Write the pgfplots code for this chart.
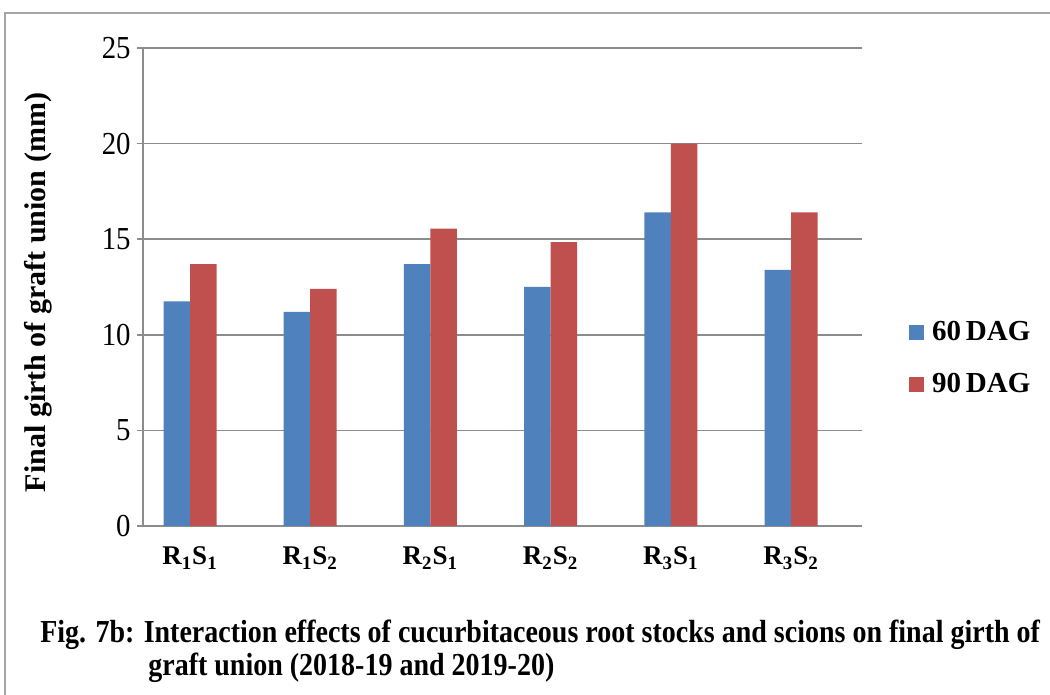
\documentclass[border=0pt]{standalone}
\usepackage{fontspec}
\setmainfont{Liberation Serif}
\usepackage{pgfplots}
\pgfplotsset{compat=1.18}
\definecolor{bblue}{HTML}{4F81BD}
\definecolor{bred}{HTML}{C0504D}
\definecolor{gridg}{HTML}{8C8C8C}
\begin{document}
\begin{tikzpicture}
\path[use as bounding box] (0,0) rectangle (525pt,347.5pt);
\draw[gray!70, line width=1pt] (2.5pt,0) -- (2.5pt,341pt) -- (525pt,341pt);
\begin{axis}[
  at={(71.5pt,84.5pt)}, anchor=south west,
  width=359.5pt, height=239pt, scale only axis,
  ybar=0pt, bar width=13.25pt,
  xmin=-0.391, xmax=5.59,
  ymin=0, ymax=25, ytick={0,5,...,25},
  xtick={0,...,5},
  xticklabels={R\textsubscript{1}S\textsubscript{1}, R\textsubscript{1}S\textsubscript{2}, R\textsubscript{2}S\textsubscript{1}, \raisebox{-2.5pt}{R\textsubscript{2}S\textsubscript{2}}, R\textsubscript{3}S\textsubscript{1}, R\textsubscript{3}S\textsubscript{2}},
  axis x line=bottom, axis y line=left,
  axis line style={-, draw=gridg, line width=0.75pt},
  ymajorgrids, grid style={gridg, line width=0.75pt},
  ytick style={gridg, line width=0.75pt}, tick align=outside, major tick length=3pt,
  xtick style={draw=none},
  /pgf/number format/assume math mode=true,
  yticklabel style={font=\fontsize{16}{16}\selectfont, xscale=0.9},
  xticklabel style={font=\bfseries\fontsize{13.5}{14}\selectfont, yshift=-4pt},
  legend style={at={(1.065,0.351)}, anchor=west, draw=none, fill=none,
    font=\bfseries\fontsize{14.5}{15}\selectfont, row sep=11pt, inner sep=0pt,
    nodes={inner xsep=4pt}},
  legend image code/.code={\fill[#1, draw=none] (0pt,-3.75pt) rectangle (7.5pt,3.75pt);},
]
\addplot[fill=bblue, draw=none] coordinates {(0,11.75) (1,11.2) (2,13.7) (3,12.5) (4,16.4) (5,13.4)};
\addplot[fill=bred, draw=none] coordinates {(0,13.7) (1,12.4) (2,15.55) (3,14.85) (4,20.0) (5,16.4)};
\legend{60\,DAG, 90\,DAG}
\end{axis}
\node[rotate=90, font=\bfseries\fontsize{15}{15}\selectfont] at (19pt,201.25pt) {Final girth of graft union (mm)};
\node[anchor=base west, inner sep=0pt, xscale=0.875, font=\bfseries\fontsize{16}{18}\selectfont] at (20pt,26pt) {Fig. 7b: Interaction effects of cucurbitaceous root stocks and scions on final girth of};
\node[anchor=base west, inner sep=0pt, xscale=0.875, font=\bfseries\fontsize{16}{18}\selectfont] at (74pt,9.5pt) {graft union (2018-19 and 2019-20)};
\end{tikzpicture}
\end{document}
